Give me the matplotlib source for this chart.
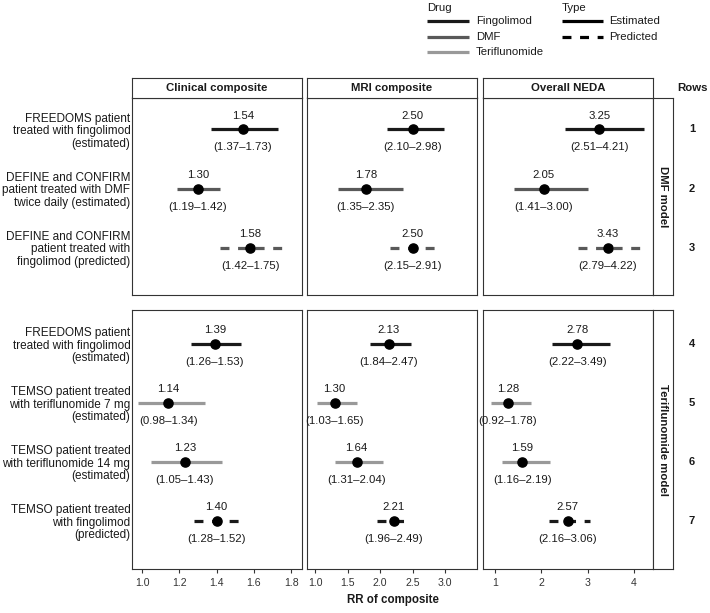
import matplotlib
matplotlib.use('Agg')
import matplotlib.pyplot as plt
import matplotlib.transforms as mtransforms
from matplotlib.lines import Line2D

plt.rcParams['font.family'] = ['Liberation Sans', 'DejaVu Sans']

# Data
rows = [1, 2, 3, 4, 5, 6, 7]
row_labels = [
    'FREEDOMS patient\ntreated with fingolimod\n(estimated)',
    'DEFINE and CONFIRM\npatient treated with DMF\ntwice daily (estimated)',
    'DEFINE and CONFIRM\npatient treated with\nfingolimod (predicted)',
    'FREEDOMS patient\ntreated with fingolimod\n(estimated)',
    'TEMSO patient treated\nwith teriflunomide 7 mg\n(estimated)',
    'TEMSO patient treated\nwith teriflunomide 14 mg\n(estimated)',
    'TEMSO patient treated\nwith fingolimod\n(predicted)',
]
row_drug = ['Fingolimod', 'DMF', 'DMF', 'Fingolimod', 'Teriflunomide', 'Teriflunomide', 'Fingolimod']
row_type = ['Estimated', 'Estimated', 'Predicted', 'Estimated', 'Estimated', 'Estimated', 'Predicted']

models = ['DMF model', 'Teriflunomide model']
model_rows = [[1, 2, 3], [4, 5, 6, 7]]

outcomes = ['Clinical composite', 'MRI composite', 'Overall NEDA']

clin_est = [1.54, 1.30, 1.58, 1.39, 1.14, 1.23, 1.40]
clin_lo = [1.37, 1.19, 1.42, 1.26, 0.98, 1.05, 1.28]
clin_hi = [1.73, 1.42, 1.75, 1.53, 1.34, 1.43, 1.52]

mri_est = [2.50, 1.78, 2.50, 2.13, 1.30, 1.64, 2.21]
mri_lo = [2.10, 1.35, 2.15, 1.84, 1.03, 1.31, 1.96]
mri_hi = [2.98, 2.35, 2.91, 2.47, 1.65, 2.04, 2.49]

neda_est = [3.25, 2.05, 3.43, 2.78, 1.28, 1.59, 2.57]
neda_lo = [2.51, 1.41, 2.79, 2.22, 0.92, 1.16, 2.16]
neda_hi = [4.21, 3.00, 4.22, 3.49, 1.78, 2.19, 3.06]

all_est = [clin_est, mri_est, neda_est]
all_lo = [clin_lo, mri_lo, neda_lo]
all_hi = [clin_hi, mri_hi, neda_hi]

xticks = [[1.0, 1.2, 1.4, 1.6, 1.8], [1.0, 1.5, 2.0, 2.5, 3.0], [1, 2, 3, 4]]
xticklabels = [['1.0', '1.2', '1.4', '1.6', '1.8'],
               ['1.0', '1.5', '2.0', '2.5', '3.0'],
               ['1', '2', '3', '4']]
xlims = [(0.946, 1.858), (0.877, 3.49), (0.74, 4.41)]
ylims = [(3.80, 0.46), (7.81, 3.42)]

drug_colors = {'Fingolimod': '#1a1a1a', 'DMF': '#595959', 'Teriflunomide': '#999999'}
type_styles = {'Estimated': '-', 'Predicted': (0, (2.8, 2.7))}

# Layout in pixels
W, H = 710, 613
def box(x0, y0, x1, y1):
    return [x0 / W, 1 - y1 / H, (x1 - x0) / W, (y1 - y0) / H]

cols_px = [(132, 302), (307, 477), (483, 653)]
panels_px = [(97.5, 295), (310, 569)]
edge = '#333333'

fig = plt.figure(figsize=(7.1, 6.13), dpi=100)

for p, (py0, py1) in enumerate(panels_px):
    for c, (cx0, cx1) in enumerate(cols_px):
        ax = fig.add_axes(box(cx0, py0, cx1, py1))
        for r in model_rows[p]:
            i = r - 1
            e, lo, hi = all_est[c][i], all_lo[c][i], all_hi[c][i]
            ax.plot([lo, hi], [r, r], color=drug_colors[row_drug[i]], lw=2.3,
                    linestyle=type_styles[row_type[i]], solid_capstyle='butt',
                    dash_capstyle='butt')
            ax.plot(e, r, 'o', color='black', ms=6.6, zorder=3)
            ax.annotate('%.2f' % e, (e, r), xytext=(0, 10), textcoords='offset points',
                        ha='center', va='center', fontsize=8.2, color='#1a1a1a',
                        annotation_clip=False)
            ax.annotate('(%.2f\u2013%.2f)' % (lo, hi), (e, r), xytext=(0, -13),
                        textcoords='offset points', ha='center', va='center',
                        fontsize=8.2, color='#1a1a1a', annotation_clip=False)
        ax.set_xlim(xlims[c])
        ax.set_ylim(ylims[p])
        for s in ax.spines.values():
            s.set_color(edge)
            s.set_linewidth(0.8)
        if c == 0:
            ax.set_yticks(model_rows[p])
            ax.set_yticklabels([row_labels[r - 1] for r in model_rows[p]],
                               fontsize=8.5, linespacing=1.05, color='#1a1a1a')
            ax.tick_params(axis='y', length=0, pad=1.2)
        else:
            ax.set_yticks([])
        if p == 1:
            ax.set_xticks(xticks[c])
            ax.set_xticklabels(xticklabels[c], fontsize=7.6, color='#333333')
            ax.tick_params(axis='x', length=3, width=0.8, color=edge, pad=3.5)
        else:
            ax.set_xticks([])

        # row numbers on the right
        if c == 2:
            trans = mtransforms.blended_transform_factory(fig.transFigure, ax.transData)
            for r in model_rows[p]:
                ax.text(692 / W, r, str(r), transform=trans, ha='center', va='center',
                        fontsize=8, fontweight='bold', color='#1a1a1a')

    # model strip on the right
    sax = fig.add_axes(box(653, py0, 673, py1))
    sax.set_xticks([])
    sax.set_yticks([])
    for s in sax.spines.values():
        s.set_color(edge)
        s.set_linewidth(0.8)
    sax.text(0.5, 0.5, models[p], rotation=270, ha='center', va='center',
             fontsize=8.2, fontweight='bold', color='#1a1a1a', transform=sax.transAxes)

# column strips
for c, (cx0, cx1) in enumerate(cols_px):
    sax = fig.add_axes(box(cx0, 78, cx1, 97.5))
    sax.set_xticks([])
    sax.set_yticks([])
    for s in sax.spines.values():
        s.set_color(edge)
        s.set_linewidth(0.8)
    sax.text(0.5, 0.5, outcomes[c], ha='center', va='center', fontsize=8.2,
             fontweight='bold', color='#1a1a1a', transform=sax.transAxes)

fig.text(692 / W, 1 - 88 / H, 'Rows', ha='center', va='center', fontsize=8.2,
         fontweight='bold', color='#1a1a1a')
fig.text(392.5 / W, 1 - 600 / H, 'RR of composite', ha='center', va='center',
         fontsize=8.3, fontweight='bold', color='#1a1a1a')

# legends
fig.text(427 / W, 1 - 8 / H, 'Drug', ha='left', va='center', fontsize=8.2, color='#1a1a1a')
for k, name in enumerate(['Fingolimod', 'DMF', 'Teriflunomide']):
    y = 1 - (21 + 15.5 * k) / H
    fig.add_artist(Line2D([427 / W, 469 / W], [y, y], transform=fig.transFigure,
                          color=drug_colors[name], lw=2.3, solid_capstyle='butt'))
    fig.text(476 / W, y, name, ha='left', va='center', fontsize=8.2, color='#1a1a1a')

fig.text(562 / W, 1 - 8 / H, 'Type', ha='left', va='center', fontsize=8.2, color='#1a1a1a')
for k, name in enumerate(['Estimated', 'Predicted']):
    y = 1 - (21 + 15.5 * k) / H
    fig.add_artist(Line2D([562 / W, 603 / W], [y, y], transform=fig.transFigure,
                          color='black', lw=2.3, linestyle=type_styles[name],
                          solid_capstyle='butt', dash_capstyle='butt'))
    fig.text(609 / W, y, name, ha='left', va='center', fontsize=8.2, color='#1a1a1a')

fig.savefig('out.png', dpi=100)
